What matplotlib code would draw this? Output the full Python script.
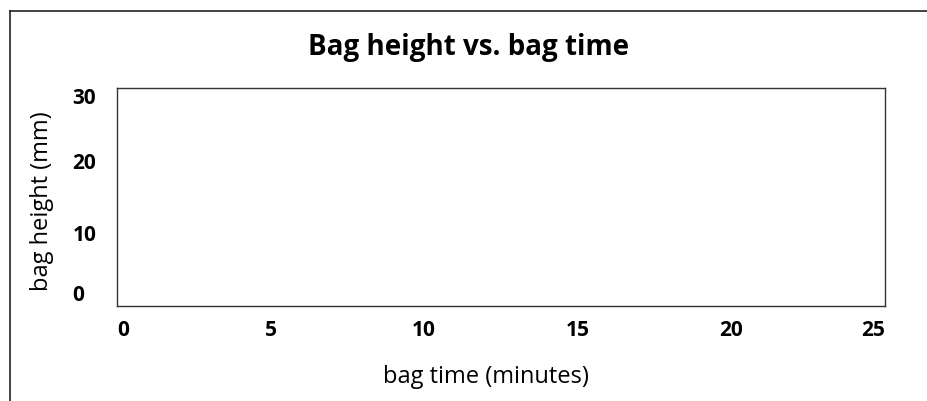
import matplotlib.pyplot as plt
from matplotlib.lines import Line2D

plt.rcParams['font.family'] = ['Open Sans', 'DejaVu Sans']

# data (the chart has no points drawn yet)
bag_time = []      # minutes
bag_height = []    # mm
x_ticks = [0, 5, 10, 15, 20, 25]
y_ticks = [0, 10, 20, 30]

fig = plt.figure(figsize=(9.28, 4.01), dpi=100)
ax = fig.add_axes([117/928, 1 - 306/401, (885-117)/928, (306-88)/401])

ax.plot(bag_time, bag_height, color='black')

ax.set_xlim(x_ticks[0], x_ticks[-1])
ax.set_ylim(y_ticks[0], y_ticks[-1])
ax.set_xticks(x_ticks)
ax.set_yticks(y_ticks)
ax.set_xticklabels([str(t) for t in x_ticks], fontsize=15, fontweight='bold')
ax.set_yticklabels([str(t) for t in y_ticks], fontsize=15, fontweight='bold')

# end labels sit inside the axis, y labels are left aligned
xl = ax.get_xticklabels()
xl[0].set_horizontalalignment('left')
xl[-1].set_horizontalalignment('right')
for t in ax.get_yticklabels():
    t.set_horizontalalignment('left')
yl = ax.get_yticklabels()
yl[0].set_verticalalignment('bottom')
yl[-1].set_verticalalignment('top')

ax.tick_params(axis='x', length=0, pad=10)
ax.tick_params(axis='y', length=0, pad=32)

for s in ax.spines.values():
    s.set_color('#333333')
    s.set_linewidth(1.0)

ax.set_xlabel('bag time (minutes)', fontsize=17)
ax.set_ylabel('bag height (mm)', fontsize=17)
ax.xaxis.label.set_verticalalignment('center')
ax.yaxis.label.set_verticalalignment('center')
ax.xaxis.set_label_coords((486-117)/768, (306-377)/218)
ax.yaxis.set_label_coords((42-117)/768, 0.48)

fig.text(469/928, 1 - 48/401, 'Bag height vs. bag time', ha='center', va='center',
         fontsize=20, fontweight='bold')

# outer frame (left and top edges only visible)
fig.add_artist(Line2D([10.5/928, 10.5/928], [0, 1 - 10.5/401], color='#222222', lw=1.2,
                      transform=fig.transFigure))
fig.add_artist(Line2D([10.5/928, 1], [1 - 10.5/401, 1 - 10.5/401], color='#222222', lw=1.2,
                      transform=fig.transFigure))

plt.savefig('out.png', dpi=100)
